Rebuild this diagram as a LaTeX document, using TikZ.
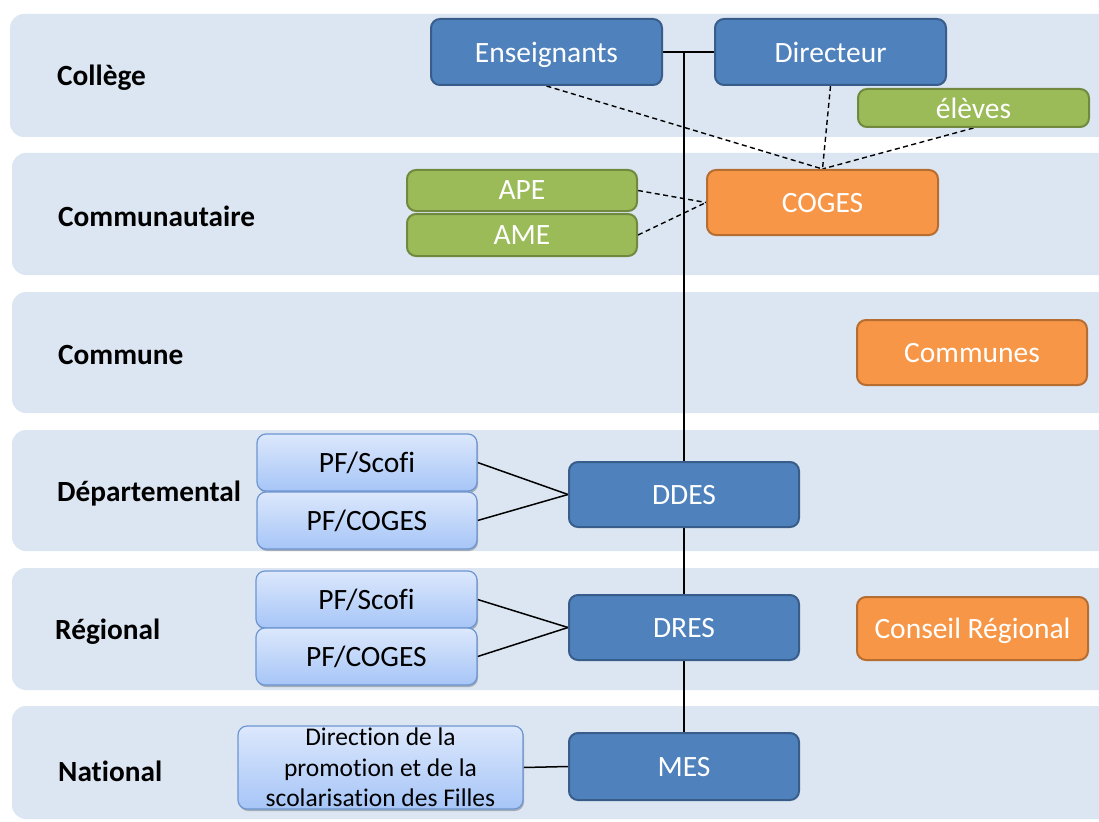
\documentclass[tikz,border=0pt]{standalone}
\usepackage{fontspec}
\setmainfont{Carlito}[Ligatures=NoCommon]
\usetikzlibrary{shadows,calc}
\definecolor{bandc}{HTML}{DCE6F2}
\definecolor{bluef}{HTML}{4F81BD}
\definecolor{blued}{HTML}{385D8A}
\definecolor{greenf}{HTML}{9BBB59}
\definecolor{greend}{HTML}{71893F}
\definecolor{orangef}{HTML}{F79646}
\definecolor{oranged}{HTML}{B66D31}
\definecolor{lighttop}{HTML}{DCE8FC}
\definecolor{lightbot}{HTML}{A6C5F7}
\definecolor{lightd}{HTML}{6E96D2}
\pgfdeclarelayer{bands}
\pgfdeclarelayer{background}
\pgfsetlayers{bands,background,main}
\tikzset{
  band/.style={fill=bandc, draw=none, rounded corners=14pt},
  lvl/.style={anchor=west, font=\fontsize{29.3}{34}\selectfont\bfseries, inner sep=0pt},
  box/.style={rounded corners=9pt, line width=2pt, inner sep=0pt, text depth=0pt, text=white, font=\fontsize{29.5}{34}\selectfont},
  bluebox/.style={box, fill=bluef, draw=blued},
  greenbox/.style={box, fill=greenf, draw=greend},
  orangebox/.style={box, fill=orangef, draw=oranged},
  lightbox/.style={rounded corners=9pt, line width=1.2pt, inner sep=0pt, draw=lightd,
     top color=lighttop, bottom color=lightbot, text=black, font=\fontsize{29.5}{34}\selectfont,
     drop shadow={shadow xshift=1pt, shadow yshift=-2pt, opacity=0.25, fill=black}},
  conn/.style={line width=1.5pt, draw=black},
  dconn/.style={line width=1.4pt, draw=black, dash pattern=on 5pt off 3.5pt},
}
\begin{document}
\begin{tikzpicture}[x=1pt,y=-1pt]
\useasboundingbox (0,0) rectangle (1099,821);
\begin{pgfonlayer}{bands}
\fill[white] (0,0) rectangle (1099,821);
\fill[band] (10,14) rectangle (1130,137);
\fill[band] (12,153) rectangle (1130,275);
\fill[band] (12,292) rectangle (1130,413);
\fill[band] (12,430) rectangle (1130,551);
\fill[band] (12,568) rectangle (1130,690);
\fill[band] (12,706) rectangle (1130,819);
\end{pgfonlayer}

\node[lvl] (lcol) at (57,78) {Collège};
\node[lvl] (lcom) at (58,216) {Communautaire};
\node[lvl] (lcne) at (58,355) {Commune};
\node[lvl] (ldep) at (57,494) {Départemental};
\node[lvl] (lreg) at (55,632) {Régional};
\node[lvl] (lnat) at (58,771) {National};

\node[bluebox, minimum width=231pt, minimum height=66pt] (ens) at (546.5,52) {Enseignants};
\node[bluebox, minimum width=231pt, minimum height=66pt] (dir) at (830.5,52) {Directeur};
\node[greenbox, minimum width=231pt, minimum height=38pt] (elv) at (973.5,108) {élèves};
\node[orangebox, minimum width=231pt, minimum height=65pt] (coges) at (822.5,202.5) {COGES};
\node[greenbox, minimum width=230pt, minimum height=41pt] (ape) at (522,190.5) {APE};
\node[greenbox, minimum width=230pt, minimum height=42pt] (ame) at (522,235) {AME};
\node[orangebox, minimum width=230pt, minimum height=65pt] (cmn) at (972,352.5) {Communes};

\node[lightbox, minimum width=220pt, minimum height=57pt] (pfs1) at (367,462.5) {PF/Scofi};
\node[lightbox, minimum width=220pt, minimum height=57pt] (pfc1) at (367,520.5) {PF/COGES};
\node[bluebox, minimum width=230pt, minimum height=65pt] (ddes) at (684,494.5) {DDES};

\node[lightbox, minimum width=221pt, minimum height=57pt] (pfs2) at (366.5,599.5) {PF/Scofi};
\node[lightbox, minimum width=221pt, minimum height=57pt] (pfc2) at (366.5,656.5) {PF/COGES};
\node[bluebox, minimum width=230pt, minimum height=65pt] (dres) at (684,627.5) {DRES};
\node[orangebox, minimum width=231pt, minimum height=63pt] (creg) at (972.5,628.5) {Conseil Régional};

\node[lightbox, minimum width=285pt, minimum height=83pt, align=center,
  font=\fontsize{25.5}{30.5}\selectfont] (dpsf) at (380.5,767.5)
  {Direction de la\\promotion et de la\\scolarisation des Filles};
\node[bluebox, minimum width=230pt, minimum height=67pt] (mes) at (684,766.5) {MES};

\coordinate (top) at (684,52);

\begin{pgfonlayer}{background}
\draw[conn] (ens.east) -- (dir.west);
\draw[conn] (top) -- (ddes.north);
\draw[conn] (ddes.south) -- (dres.north);
\draw[conn] (dres.south) -- (mes.north);
\draw[dconn] (ens.south) -- (coges.north);
\draw[dconn] (dir.south) -- (coges.north);
\draw[dconn] (elv.south) -- (coges.north);
\draw[dconn] (ape.east) -- (coges.west);
\draw[dconn] (ame.east) -- (coges.west);
\draw[conn] (pfs1.east) -- (ddes.west);
\draw[conn] (pfc1.east) -- (ddes.west);
\draw[conn] (pfs2.east) -- (dres.west);
\draw[conn] (pfc2.east) -- (dres.west);
\draw[conn] (dpsf.east) -- (mes.west);
\end{pgfonlayer}
\end{tikzpicture}
\end{document}
